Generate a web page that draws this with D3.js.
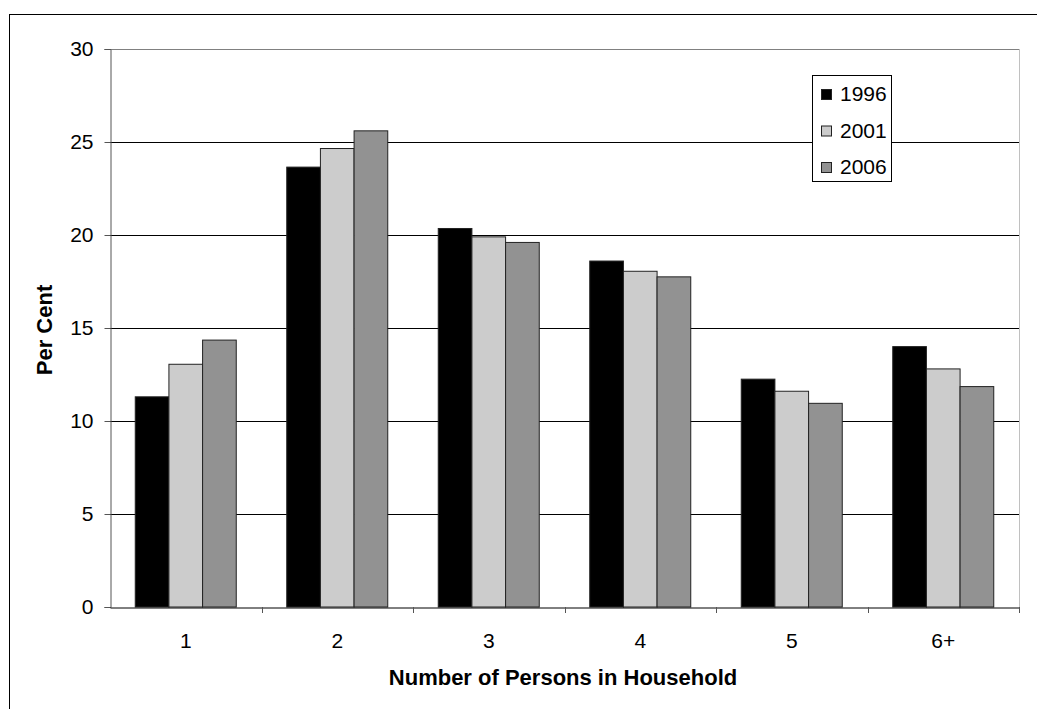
<!DOCTYPE html>
<html><head><meta charset="utf-8">
<script src="https://cdn.jsdelivr.net/npm/d3@7"></script>
<style>body{margin:0;background:#fff}svg{display:block}text{font-family:"Liberation Sans",Arial,sans-serif}</style>
</head><body>
<script>
const categories = ["1","2","3","4","5","6+"];
const seriesNames = ["1996","2001","2006"];
const v1996 = [11.3, 23.65, 20.35, 18.6, 12.25, 14.0];
const v2001 = [13.05, 24.65, 19.9, 18.05, 11.6, 12.8];
const v2006 = [14.35, 25.6, 19.6, 17.75, 10.95, 11.85];
const yTicks = [0,5,10,15,20,25,30];
const colors = ["#000000","#cccccc","#929292"];
const series = [v1996, v2001, v2006];

const W = 1037, H = 709;
const svg = d3.select("body").append("svg").attr("width", W).attr("height", H);
// outer frame
svg.append("rect").attr("x",9.5).attr("y",14.5).attr("width",1100).attr("height",800)
  .attr("fill","none").attr("stroke","#000").attr("stroke-width",1);

const L = 110, R = 1019, T = 49, B = 607;
const x0 = d3.scaleBand().domain(categories).range([L, R]).paddingInner(0).paddingOuter(0);
const y = d3.scaleLinear().domain([0,30]).range([B, T]);
const cw = x0.bandwidth();
const bw = cw / 4.5;

// gridlines
svg.append("g").selectAll("line").data(yTicks.filter(t=>t>0 && t<30)).join("line")
  .attr("x1",L).attr("x2",R).attr("y1",d=>Math.round(y(d))+0.5).attr("y2",d=>Math.round(y(d))+0.5)
  .attr("stroke","#000").attr("stroke-width",1);
// plot border top/right gray
svg.append("line").attr("x1",L).attr("x2",R).attr("y1",T+0.5).attr("y2",T+0.5).attr("stroke","#808080");
svg.append("line").attr("x1",R+0.5).attr("x2",R+0.5).attr("y1",T).attr("y2",B).attr("stroke","#c0c0c0");

// bars
const g = svg.append("g");
series.forEach((vals, si) => {
  g.selectAll(null).data(vals).join("rect")
    .attr("x",(d,i)=>x0(categories[i]) + bw*0.75 + si*bw)
    .attr("y",d=>y(d))
    .attr("width",bw)
    .attr("height",d=>B - y(d))
    .attr("fill",colors[si])
    .attr("stroke","#222").attr("stroke-width",1);
});

// y axis
const ya = d3.axisLeft(y).tickValues(yTicks).tickSize(6).tickPadding(11).tickFormat(d3.format("d"));
const yg = svg.append("g").attr("transform",`translate(${L+0.5},0)`).call(ya);
yg.select(".domain").attr("stroke","#555");
yg.selectAll(".tick line").attr("stroke","#555");
yg.selectAll("text").attr("font-size",21).attr("fill","#000");

// x axis
const xa = d3.axisBottom(x0).tickSize(0).tickPadding(26);
const xg = svg.append("g").attr("transform",`translate(0,${B+0.5})`).call(xa);
xg.select(".domain").attr("stroke","#000");
xg.selectAll("text").attr("font-size",21).attr("fill","#000");
// category boundary ticks
svg.append("g").selectAll("line").data(categories.slice(1).concat(["end"])).join("line")
  .attr("x1",(d,i)=>Math.round(L + (i+1)*cw)+0.5).attr("x2",(d,i)=>Math.round(L + (i+1)*cw)+0.5)
  .attr("y1",B).attr("y2",B+6).attr("stroke","#555");

// axis titles
svg.append("text").attr("x",563).attr("y",685).attr("text-anchor","middle")
  .attr("font-size",22).attr("font-weight","bold").text("Number of Persons in Household");
svg.append("text").attr("transform","translate(52,330) rotate(-90)").attr("text-anchor","middle")
  .attr("font-size",22).attr("font-weight","bold").text("Per Cent");

// legend
const lg = svg.append("g");
lg.append("rect").attr("x",812.5).attr("y",75.5).attr("width",79).attr("height",106)
  .attr("fill","#fff").attr("stroke","#000");
seriesNames.forEach((n,i)=>{
  const cy = 94 + i*36.5;
  lg.append("rect").attr("x",821.5).attr("y",cy-4.5).attr("width",10).attr("height",10)
    .attr("fill",colors[i]).attr("stroke","#222");
  lg.append("text").attr("x",840).attr("y",cy+7).attr("font-size",21).text(n);
});
</script>
</body></html>
